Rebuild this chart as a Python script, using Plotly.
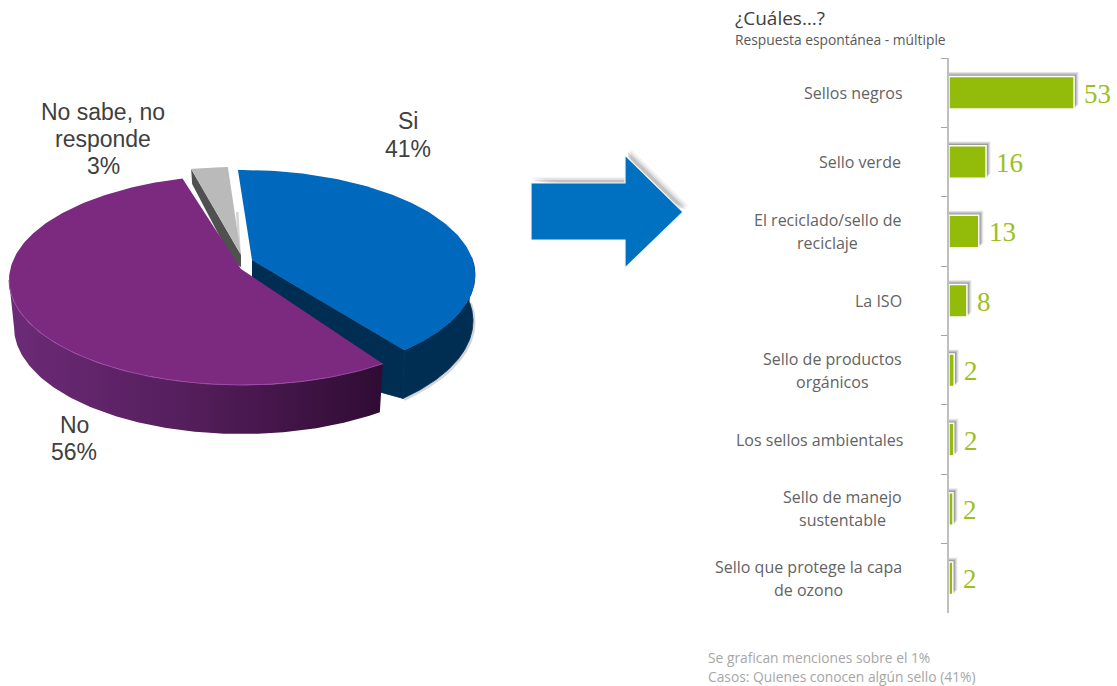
import numpy as np
import plotly.graph_objects as go

W, H = 1117, 686

# ---- data ----
pie_labels = ["Si", "No", "No sabe, no<br>responde"]
pie_values = [41, 56, 3]
bar_labels = ["Sellos negros", "Sello verde", "El reciclado/sello de<br>reciclaje", "La ISO",
              "Sello de productos<br>orgánicos", "Los sellos ambientales",
              "Sello de manejo<br>sustentable", "Sello que protege la capa<br>de ozono"]
bar_values = [53, 15.7, 12.6, 7.6, 2.2, 2.0, 1.7, 1.6]

# ---- pie projection (drawn on a pixel scaled axis pair) ----
ROT = -4.8
starts = ROT + 3.6 * np.concatenate([[0], np.cumsum(pie_values)[:-1]])
ends = ROT + 3.6 * np.cumsum(pie_values)
si, no, ns = 0, 1, 2


def rim(cx, cy, rx, ry, a0, a1, n=120):
    t = np.radians(np.linspace(a0, a1, n))
    return cx + rx * np.sin(t), cy - ry * np.cos(t)


fig = go.Figure()


def poly(x, y, color, line=None, width=0.8):
    fig.add_trace(go.Scatter(x=list(x), y=list(y), mode="lines", fill="toself", fillcolor=color,
                             line=dict(width=width if line else 0, color=line or color), xaxis="x2", yaxis="y2",
                             hoverinfo="skip", showlegend=False))


# Si: exploded slice
a0, a1 = starts[si] + 3.8, ends[si] - 7
bx, by = rim(242, 275, 233, 105, a0, a1)
wx, wy = rim(242, 321, 231, 108, 80, a1)
wx0, wy0 = rim(242, 275, 233, 105, 80, a1)
fig.add_trace(go.Scatter(x=list(wx + 1), y=list(wy + 1), mode="lines", line=dict(width=3, color="rgba(90,90,90,0.25)"),
                         xaxis="x2", yaxis="y2", hoverinfo="skip", showlegend=False))
poly(np.r_[wx0, wx[::-1]], np.r_[wy0, wy[::-1]], "#002D52", "#002D52")
poly([252, bx[-1], wx[-1], 300, 252], [260, by[-1], wy[-1], 370, 300], "#002D52", "#002D52")
poly(np.r_[252, bx], np.r_[260, by], "#0069BE")

# sliver of the inner wall seen in the gap
poly([236, 238.5, 241, 239], [212, 212, 258, 258], "#D4D4D4")

# No sabe: small slice
a0, a1 = starts[ns] + 4.5 - 360, ends[ns] + 2.8 - 360
gx, gy = rim(236, 272, 233, 105, a0, a1, 20)
poly([gx[0], 241, 241, 233, gx[0] + 1], [gy[0], 255, 267, 262, gy[0] + 15], "#505050")
poly(np.r_[241, gx], np.r_[255, gy], "#BABABA")

# No: main slice
a0, a1 = starts[no], ends[no] + 0.8
px, py = rim(242, 280, 233, 105, a0, a1, 200)
lx, ly = rim(242, 327, 228, 107, a0, 270, 120)
ux, uy = rim(242, 280, 233, 105, a0, 270, 120)
fig.add_trace(go.Scatter(x=list(np.r_[ux, lx[::-1]]), y=list(np.r_[uy, ly[::-1]]), mode="lines", fill="toself",
                         fillgradient=dict(type="horizontal", colorscale=[[0, "#6c2b77"], [0.5, "#531d5a"], [1, "#2f0c33"]]),
                         line=dict(width=0), xaxis="x2", yaxis="y2", hoverinfo="skip", showlegend=False))
poly(np.r_[241, px], np.r_[269, py], "#7B2A80")
fig.add_trace(go.Scatter(x=list(ux), y=list(uy), mode="lines", line=dict(width=1, color="#9A4AA6"), xaxis="x2", yaxis="y2",
                         hoverinfo="skip", showlegend=False))

# ---- horizontal bars with soft top-right shadow ----
for dx, off, op in [(2.0, -0.30, 0.08), (1.6, -0.29, 0.12), (1.2, -0.275, 0.18), (0.8, -0.26, 0.25)]:
    fig.add_trace(go.Bar(y=bar_labels, x=[v + dx for v in bar_values], orientation="h", width=0.47, offset=off,
                         marker=dict(color="rgba(60,60,60,%g)" % op, line=dict(width=0)), hoverinfo="skip", showlegend=False))
fig.add_trace(go.Bar(y=bar_labels, x=bar_values, orientation="h", width=0.47, offset=-0.235,
                     marker=dict(color="#92BB0A", line=dict(width=1.5, color="#FFFFFF")), showlegend=False))

ann = []
TXT = "Open Sans, Noto Sans, sans-serif"
BLOCK = [98, 84, 149, 47, 140, 166, 120, 188]   # widths of the label blocks, right edges aligned
for lab, val, block in zip(bar_labels, bar_values, BLOCK):
    lines = lab.split("<br>")
    for i, ln in enumerate(lines):
        ann.append(dict(x=(902 - block / 2) / W, y=lab, xref="paper", yref="y", text=ln, showarrow=False, align="center",
                        xanchor="center", yshift=-(i - (len(lines) - 1) / 2) * 23,
                        font=dict(family=TXT, size=16, color="#636363")))
    ann.append(dict(x=val, y=lab, xref="x", yref="y", text="%.0f" % val, showarrow=False, xanchor="left", xshift=8, yshift=-1,
                    font=dict(family="Liberation Serif, serif", size=27, color="#9BC01E")))


def page(x, y, text, size, color, family=TXT, anchor="left", align="left"):
    ann.append(dict(x=x / W, y=1 - y / H, xref="paper", yref="paper", text=text, showarrow=False, xanchor=anchor,
                    yanchor="middle", align=align, font=dict(family=family, size=size, color=color)))


ARIAL = "Liberation Sans, Arial, sans-serif"


def stacked(x, y, text, gap=27):
    for i, ln in enumerate(text.split("<br>")):
        page(x, y + i * gap, ln, 23, "#404040", ARIAL, "center", "center")


stacked(408, 121, pie_labels[si] + "<br>%d%%" % pie_values[si], 28)
stacked(103, 112, pie_labels[ns] + "<br>%d%%" % pie_values[ns])
stacked(74, 425, pie_labels[no] + "<br>%d%%" % pie_values[no])
page(733, 18, "¿Cuáles…?", 19, "#404040")
page(733, 39, "Respuesta espontánea - múltiple", 13.8, "#595959")
page(706, 657, "Se grafican menciones sobre el 1%", 13.8, "#A6A6A6")
page(706, 676, "Casos: Quienes conocen algún sello (41%)", 13.8, "#A6A6A6")

# ---- arrow ----
arrow = "M531,183 L625,183 L625,155 L683,212 L625,268 L625,240 L531,240 Z"
shapes = []
for dx, dy, op in [(6, -6, 0.06), (4.5, -4.5, 0.10), (3, -3, 0.16)]:
    shifted = "M%g,%g L%g,%g L%g,%g L%g,%g Z" % (531, 183 + dy, 625 + dx, 183 + dy, 625 + dx, 155 + dy, 683 + dx, 212 + dy)
    shapes.append(dict(type="path", path=shifted, xref="x2", yref="y2", fillcolor="rgba(50,50,50,%g)" % op, line=dict(width=0), layer="above"))
shapes.append(dict(type="path", path=arrow, xref="x2", yref="y2", fillcolor="#0070C0", line=dict(width=1.2, color="#F4F8FB"), layer="above"))

fig.update_layout(
    width=W, height=H, autosize=False, margin=dict(l=0, r=0, t=0, b=0), paper_bgcolor="#FFFFFF", plot_bgcolor="rgba(0,0,0,0)",
    barmode="overlay", bargap=0.5, annotations=ann, shapes=shapes,
    xaxis=dict(domain=[949 / W, 1], range=[0, 168 / 2.36], visible=False, fixedrange=True),
    yaxis=dict(domain=[1 - 613 / H, 1 - 58 / H], type="category", categoryorder="array", categoryarray=bar_labels,
               autorange="reversed", showticklabels=False, ticks="outside", ticklen=6, tickcolor="#A6A6A6", tickwidth=1,
               tickson="boundaries", showline=True, linecolor="#BFBFBF", linewidth=1.5, showgrid=False, anchor="x", zeroline=False),
    xaxis2=dict(domain=[0, 1], range=[0, W], visible=False, anchor="y2", fixedrange=True),
    yaxis2=dict(domain=[0, 1], range=[H, 0], visible=False, anchor="x2", fixedrange=True),
)
fig.write_html("out.html", config=dict(displayModeBar=False),
               post_script="document.body.style.margin='0';document.body.style.overflow='hidden';")
